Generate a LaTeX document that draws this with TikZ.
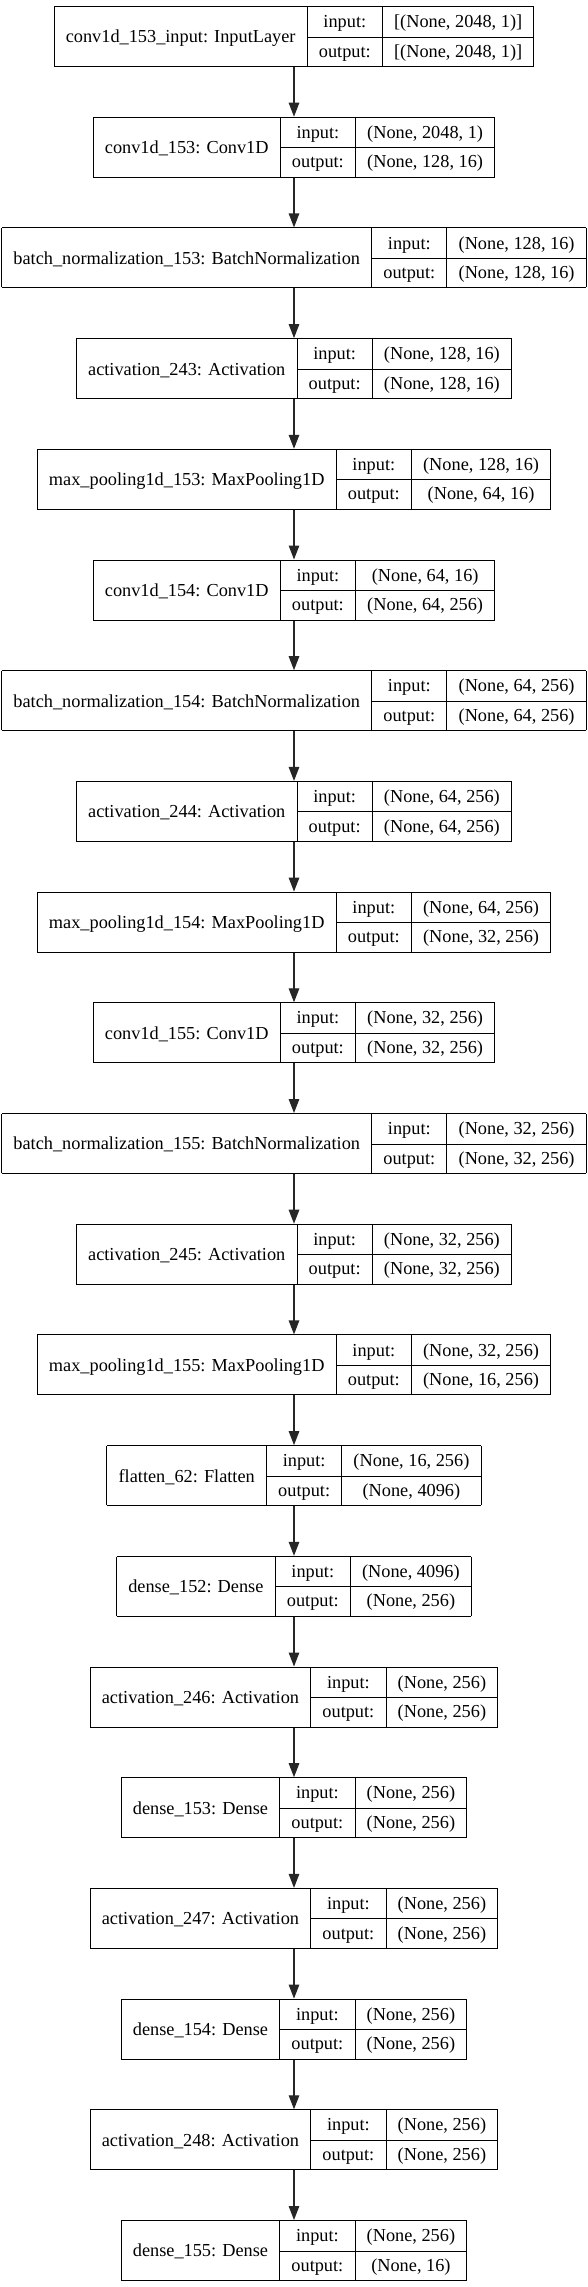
\documentclass[tikz,border=0pt]{standalone}
\usepackage{fontspec}
\setmainfont{Liberation Serif}
\usetikzlibrary{arrows.meta}

% one record: name | input/output | shapes
\newcommand{\layertab}[3]{%
  \setlength{\tabcolsep}{11.7pt}%
  \setlength{\arrayrulewidth}{1pt}%
  \begin{tabular}{|c|c|c|}\hline
    \raisebox{-15.25pt}[0pt][0pt]{#1} & input: & #2 \\ \cline{2-3}
    & output: & #3 \\ \hline
  \end{tabular}}

\begin{document}
\begin{tikzpicture}[x=1pt, y=-1pt]
    \useasboundingbox (0, 0) rectangle (588, 2287); % bounding box

    % layers
    \begin{scope}[every node/.style={inner sep=0pt, outer sep=0pt, font=\fontsize{18.3}{29.5}\selectfont}]
        \node at (294,   36.5) (l1)  {\layertab{conv1d\_153\_input: InputLayer}{[(None, 2048, 1)]}{[(None, 2048, 1)]}};
        \node at (294,  147.2) (l2)  {\layertab{conv1d\_153: Conv1D}{(None, 2048, 1)}{(None, 128, 16)}};
        \node at (294,  257.9) (l3)  {\layertab{batch\_normalization\_153: BatchNormalization}{(None, 128, 16)}{(None, 128, 16)}};
        \node at (294,  368.6) (l4)  {\layertab{activation\_243: Activation}{(None, 128, 16)}{(None, 128, 16)}};
        \node at (294,  479.3) (l5)  {\layertab{max\_pooling1d\_153: MaxPooling1D}{(None, 128, 16)}{(None, 64, 16)}};
        \node at (294,  590.0) (l6)  {\layertab{conv1d\_154: Conv1D}{(None, 64, 16)}{(None, 64, 256)}};
        \node at (294,  700.7) (l7)  {\layertab{batch\_normalization\_154: BatchNormalization}{(None, 64, 256)}{(None, 64, 256)}};
        \node at (294,  811.4) (l8)  {\layertab{activation\_244: Activation}{(None, 64, 256)}{(None, 64, 256)}};
        \node at (294,  922.1) (l9)  {\layertab{max\_pooling1d\_154: MaxPooling1D}{(None, 64, 256)}{(None, 32, 256)}};
        \node at (294, 1032.8) (l10) {\layertab{conv1d\_155: Conv1D}{(None, 32, 256)}{(None, 32, 256)}};
        \node at (294, 1143.5) (l11) {\layertab{batch\_normalization\_155: BatchNormalization}{(None, 32, 256)}{(None, 32, 256)}};
        \node at (294, 1254.2) (l12) {\layertab{activation\_245: Activation}{(None, 32, 256)}{(None, 32, 256)}};
        \node at (294, 1364.9) (l13) {\layertab{max\_pooling1d\_155: MaxPooling1D}{(None, 32, 256)}{(None, 16, 256)}};
        \node at (294, 1475.6) (l14) {\layertab{flatten\_62: Flatten}{(None, 16, 256)}{(None, 4096)}};
        \node at (294, 1586.3) (l15) {\layertab{dense\_152: Dense}{(None, 4096)}{(None, 256)}};
        \node at (294, 1697.0) (l16) {\layertab{activation\_246: Activation}{(None, 256)}{(None, 256)}};
        \node at (294, 1807.7) (l17) {\layertab{dense\_153: Dense}{(None, 256)}{(None, 256)}};
        \node at (294, 1918.4) (l18) {\layertab{activation\_247: Activation}{(None, 256)}{(None, 256)}};
        \node at (294, 2029.1) (l19) {\layertab{dense\_154: Dense}{(None, 256)}{(None, 256)}};
        \node at (294, 2139.8) (l20) {\layertab{activation\_248: Activation}{(None, 256)}{(None, 256)}};
        \node at (294, 2250.5) (l21) {\layertab{dense\_155: Dense}{(None, 256)}{(None, 16)}};
    \end{scope}

    % connections
    \begin{scope}[every path/.style={line width=1.3pt, black!85, -{Triangle[length=14pt, width=10.5pt]}}]
        \draw (l1.south)  -- (l2.north);
        \draw (l2.south)  -- (l3.north);
        \draw (l3.south)  -- (l4.north);
        \draw (l4.south)  -- (l5.north);
        \draw (l5.south)  -- (l6.north);
        \draw (l6.south)  -- (l7.north);
        \draw (l7.south)  -- (l8.north);
        \draw (l8.south)  -- (l9.north);
        \draw (l9.south)  -- (l10.north);
        \draw (l10.south) -- (l11.north);
        \draw (l11.south) -- (l12.north);
        \draw (l12.south) -- (l13.north);
        \draw (l13.south) -- (l14.north);
        \draw (l14.south) -- (l15.north);
        \draw (l15.south) -- (l16.north);
        \draw (l16.south) -- (l17.north);
        \draw (l17.south) -- (l18.north);
        \draw (l18.south) -- (l19.north);
        \draw (l19.south) -- (l20.north);
        \draw (l20.south) -- (l21.north);
    \end{scope}
\end{tikzpicture}
\end{document}
